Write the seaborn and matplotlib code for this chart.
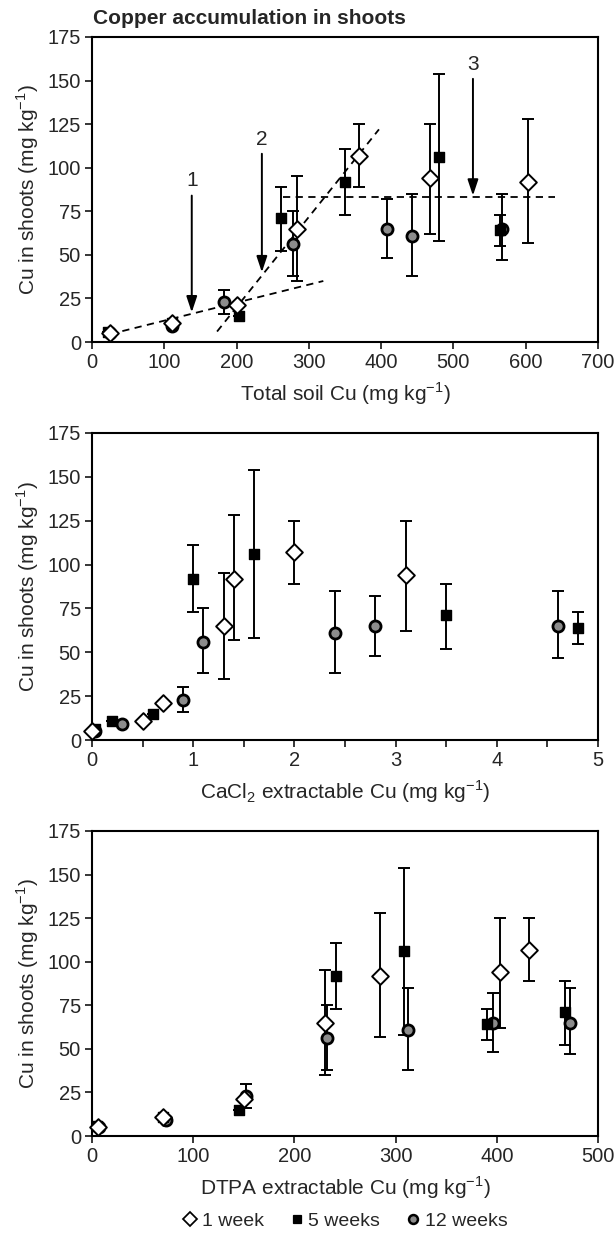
import numpy as np
import pandas as pd
import matplotlib
matplotlib.use("Agg")
import matplotlib.pyplot as plt
from matplotlib.lines import Line2D
import seaborn as sns

# ---------------- data ----------------
weeks = ["1 week", "5 weeks", "12 weeks"]

# 1 week
w1_total = [25, 110, 200, 283, 370, 467, 603]
w1_cacl2 = [0.0, 0.5, 0.7, 1.3, 2.0, 3.1, 1.4]
w1_dtpa = [6, 70, 150, 230, 432, 403, 285]
w1_cu = [5, 11, 21, 65, 107, 94, 92]
w1_lo = [5, 11, 21, 35, 89, 62, 57]
w1_hi = [5, 11, 21, 95, 125, 125, 128]

# 5 weeks
w5_total = [22, 110, 203, 262, 350, 480, 565]
w5_cacl2 = [0.03, 0.2, 0.6, 3.5, 1.0, 1.6, 4.8]
w5_dtpa = [5, 70, 145, 467, 241, 308, 390]
w5_cu = [6, 11, 15, 71, 92, 106, 64]
w5_lo = [6, 11, 15, 52, 73, 58, 55]
w5_hi = [6, 11, 15, 89, 111, 154, 73]

# 12 weeks
w12_total = [25, 110, 182, 278, 408, 442, 567]
w12_cacl2 = [0.03, 0.3, 0.9, 1.1, 2.8, 2.4, 4.6]
w12_dtpa = [7, 73, 152, 232, 396, 312, 472]
w12_cu = [5, 9, 23, 56, 65, 61, 65]
w12_lo = [5, 9, 16, 38, 48, 38, 47]
w12_hi = [5, 9, 30, 75, 82, 85, 85]

# regression / breakpoint lines in top panel
line1_x = [25, 320]
line1_y = [4.5, 35]
line2_x = [173, 397]
line2_y = [6, 122]
line3_x = [264, 640]
line3_y = [83, 83]

arrow_x = [138, 235, 527]
arrow_top = [84, 108, 151]
arrow_end = [17, 40, 84]
arrow_lbl = ["1", "2", "3"]

# ---------------- build table ----------------
frames = []
for wk, tot, cac, dt, cu, lo, hi in [
    ("1 week", w1_total, w1_cacl2, w1_dtpa, w1_cu, w1_lo, w1_hi),
    ("5 weeks", w5_total, w5_cacl2, w5_dtpa, w5_cu, w5_lo, w5_hi),
    ("12 weeks", w12_total, w12_cacl2, w12_dtpa, w12_cu, w12_lo, w12_hi),
]:
    frames.append(pd.DataFrame({"week": wk, "total": tot, "cacl2": cac, "dtpa": dt,
                                "cu": cu, "lo": lo, "hi": hi}))
df = pd.concat(frames, ignore_index=True)

sns.set_style("ticks")
plt.rcParams["font.family"] = ["Liberation Sans", "DejaVu Sans"]
plt.rcParams["mathtext.fontset"] = "custom"
plt.rcParams["mathtext.rm"] = "Liberation Sans"

fig = plt.figure(figsize=(6.16, 12.46), dpi=100)
W, H = 616, 1246
def rect(left, top, right, bottom):
    return [left / W, 1 - bottom / H, (right - left) / W, (bottom - top) / H]

axes = [fig.add_axes(rect(92, 37, 598, 342)),
        fig.add_axes(rect(92, 433, 598, 740)),
        fig.add_axes(rect(92, 831, 598, 1136))]

styles = {
    "1 week": dict(marker="D", mfc="white", mec="black", ms=8.5, mew=1.4),
    "5 weeks": dict(marker="s", mfc="black", mec="black", ms=7.5, mew=1.0),
    "12 weeks": dict(marker="o", mfc="#8c8c8c", mec="black", ms=8, mew=2.0),
}
order = ["12 weeks", "5 weeks", "1 week"]

xcols = ["total", "cacl2", "dtpa"]
xlabels = ["Total soil Cu (mg kg$^{-1}$)",
           "CaCl$_2$ extractable Cu (mg kg$^{-1}$)",
           "DTPA extractable Cu (mg kg$^{-1}$)"]
xlims = [(0, 700), (0, 5), (0, 500)]
xticks = [np.arange(0, 701, 100), np.arange(0, 6, 1), np.arange(0, 501, 100)]

FS = 15
for ax, xc, xl, lim, tk in zip(axes, xcols, xlabels, xlims, xticks):
    for wk in order:
        sub = df[df.week == wk]
        yerr = np.vstack([sub.cu - sub.lo, sub.hi - sub.cu])
        ax.errorbar(sub[xc], sub.cu, yerr=yerr, fmt="none", ecolor="black",
                    elinewidth=1.4, capsize=4.5, capthick=1.4, zorder=2)
    for wk in order:
        sub = df[df.week == wk]
        st = styles[wk]
        sns.scatterplot(x=sub[xc], y=sub.cu, ax=ax, marker=st["marker"],
                        s=st["ms"] ** 2, color=st["mfc"], edgecolor=st["mec"],
                        linewidth=st["mew"], zorder=3, legend=False, clip_on=False)
    ax.set_xlim(*lim)
    ax.set_ylim(0, 175)
    ax.set_xticks(tk)
    ax.set_yticks(np.arange(0, 176, 25))
    ax.set_xlabel(xl, fontsize=FS, labelpad=6)
    ax.set_ylabel("Cu in shoots (mg kg$^{-1}$)", fontsize=FS, labelpad=5)
    ax.tick_params(axis="both", labelsize=14.5, length=5, width=1.3, direction="out",
                   top=False, right=False, pad=3)
    for sp in ax.spines.values():
        sp.set_visible(True)
        sp.set_linewidth(1.5)
        sp.set_color("black")

axes[1].set_xticks(np.arange(0.5, 5, 1), minor=True)
axes[1].tick_params(axis="x", which="minor", length=5, width=1.3)

# top panel lines and arrows
ax = axes[0]
for lx, ly in [(line1_x, line1_y), (line2_x, line2_y), (line3_x, line3_y)]:
    ax.plot(lx, ly, color="black", lw=1.3, linestyle=(0, (4, 3)), zorder=1)
for x, yt, ye, lbl in zip(arrow_x, arrow_top, arrow_end, arrow_lbl):
    ax.annotate("", xy=(x, ye), xytext=(x, yt),
                arrowprops=dict(arrowstyle="-|>,head_length=0.6,head_width=0.2",
                                color="black", lw=1.4,
                                mutation_scale=16, shrinkA=0, shrinkB=0))
    ax.text(x, yt + 3, lbl, ha="center", va="bottom", fontsize=FS)

fig.text(93 / W, 1 - 18 / H, "Copper accumulation in shoots", fontsize=15,
         fontweight="bold", ha="left", va="center")

handles = [Line2D([], [], linestyle="none", marker=styles[w]["marker"],
                  markerfacecolor=styles[w]["mfc"], markeredgecolor=styles[w]["mec"],
                  markersize=styles[w]["ms"] * 0.8, markeredgewidth=styles[w]["mew"] * 0.9)
           for w in weeks]
fig.legend(handles, weeks, loc="center", bbox_to_anchor=(344 / W, 1 - 1221 / H), ncol=3,
           frameon=False, fontsize=14, handletextpad=0.1, columnspacing=1.2,
           handlelength=1.0)

fig.savefig("out.png", dpi=100)
